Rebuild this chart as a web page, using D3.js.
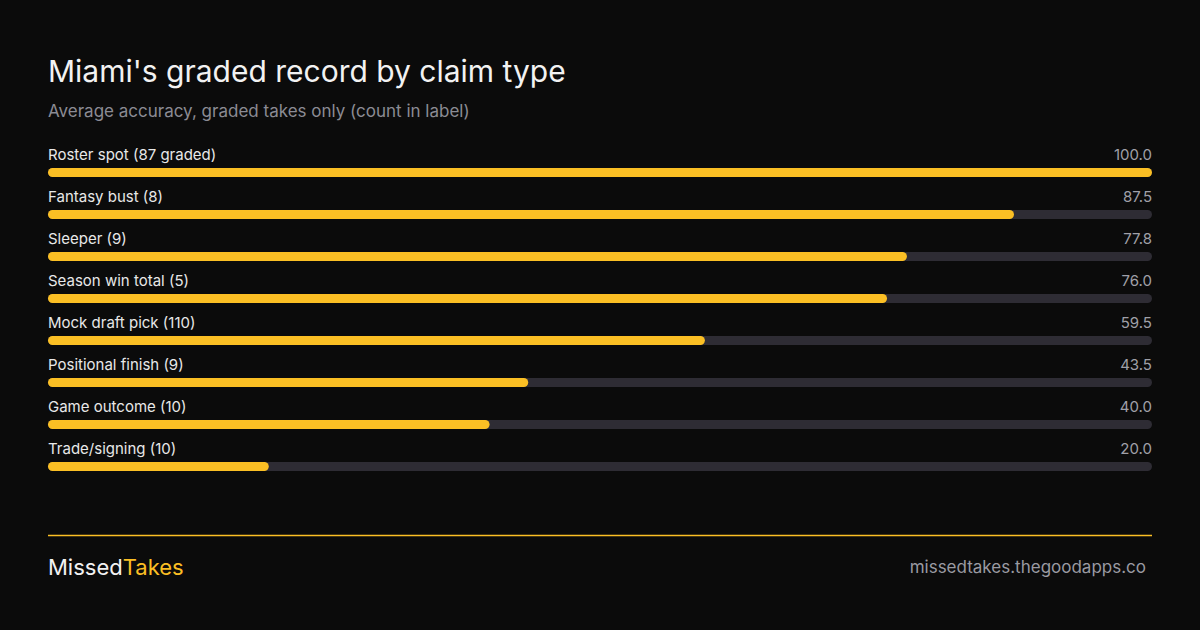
<!DOCTYPE html>
<html>
<head>
<meta charset="utf-8">
<script src="https://cdn.jsdelivr.net/npm/d3@7"></script>
<style>
  body { margin: 0; background: #0b0b0b; }
  text { font-family: Inter, "Noto Sans", sans-serif; }
</style>
</head>
<body>
<script>
const categories = ['Roster spot (87 graded)', 'Fantasy bust (8)', 'Sleeper (9)', 'Season win total (5)',
  'Mock draft pick (110)', 'Positional finish (9)', 'Game outcome (10)', 'Trade/signing (10)']
const accuracy = [100.0, 87.5, 77.8, 76.0, 59.5, 43.5, 40.0, 20.0]

const w = 1200
const h = 630
const left = 48
const right = 1152

const svg = d3.select('body').append('svg')
  .attr('width', w)
  .attr('height', h)

svg.append('rect').attr('width', w).attr('height', h).attr('fill', '#0b0b0b')

svg.append('text').attr('x', left).attr('y', 82)
  .attr('fill', '#f2f2f2').attr('font-size', 30)
  .text("Miami's graded record by claim type")

svg.append('text').attr('x', left).attr('y', 117)
  .attr('fill', '#8b8b94').attr('font-size', 17)
  .text('Average accuracy, graded takes only (count in label)')

const xScale = d3.scaleLinear().domain([0, 100]).range([left, right])
const yScale = d3.scaleBand().domain(categories).range([144, 480])

const rows = svg.selectAll('g.row').data(categories).enter().append('g')
  .attr('class', 'row')
  .attr('transform', d => 'translate(0,' + yScale(d) + ')')

rows.append('text').attr('x', left).attr('y', 16)
  .attr('fill', '#e8e8e8').attr('font-size', 15)
  .text(d => d)

rows.append('text').attr('x', right).attr('y', 16)
  .attr('text-anchor', 'end')
  .attr('fill', '#a0a0a8').attr('font-size', 15)
  .text((d, i) => accuracy[i].toFixed(1))

rows.append('rect').attr('x', left).attr('y', 24)
  .attr('width', right - left).attr('height', 9).attr('rx', 4.5)
  .attr('fill', '#2e2c34')

rows.append('rect').attr('x', left).attr('y', 24)
  .attr('width', (d, i) => xScale(accuracy[i]) - left).attr('height', 9).attr('rx', 4.5)
  .attr('fill', '#fbbf24')

svg.append('line').attr('x1', left).attr('x2', right).attr('y1', 535.5).attr('y2', 535.5)
  .attr('stroke', '#fbbf24').attr('stroke-width', 1.5)

const brand = svg.append('text').attr('x', left).attr('y', 575).attr('font-size', 22)
brand.append('tspan').attr('fill', '#f2f2f2').text('Missed')
brand.append('tspan').attr('fill', '#fbbf24').text('Takes')

svg.append('text').attr('x', 1146).attr('y', 573)
  .attr('text-anchor', 'end')
  .attr('fill', '#9a9aa2').attr('font-size', 17)
  .text('missedtakes.thegoodapps.co')
</script>
</body>
</html>
